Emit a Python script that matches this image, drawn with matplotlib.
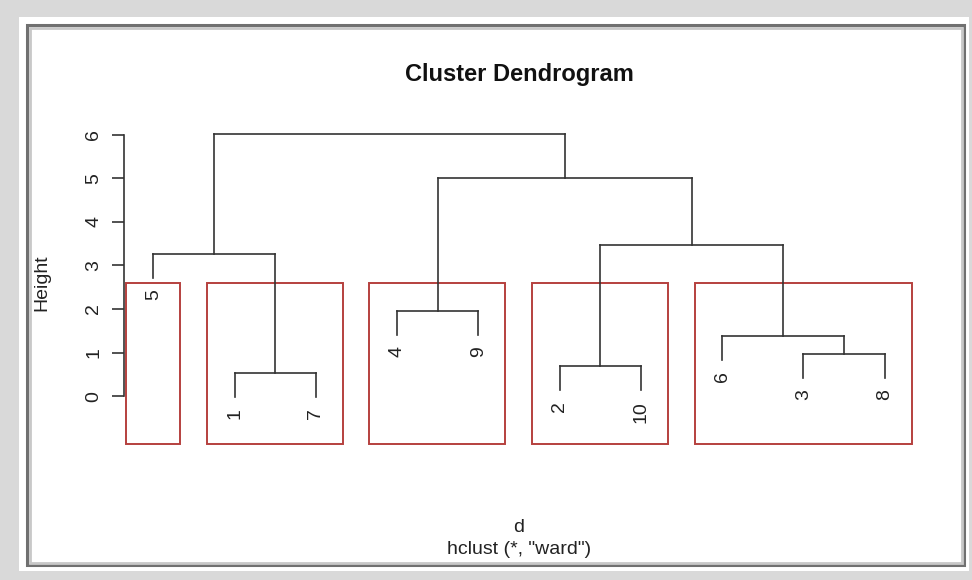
import matplotlib
matplotlib.use("Agg")
import matplotlib.pyplot as plt
from matplotlib.patches import Rectangle

plt.rcParams['font.family'] = ['Liberation Sans', 'DejaVu Sans']

# data: hclust result (R-style merge table, negative = leaf id)
leaf_order = [5, 1, 7, 4, 9, 2, 10, 6, 3, 8]
merge_left = [-1, -2, -3, -6, -4, -5, 2, 5, 6]
merge_right = [-7, -10, -8, 3, -9, 1, 4, 7, 8]
merge_height = [0.53, 0.69, 0.97, 1.38, 1.95, 3.26, 3.47, 5.01, 6.02]
k_clusters = 5
cluster_sizes = [1, 2, 2, 2, 3]   # leaves per rect, in leaf order
y_ticks = [0, 1, 2, 3, 4, 5, 6]

line_col = '#333333'
rect_col = '#b5403e'

fig = plt.figure(figsize=(9.72, 5.80), dpi=100)
fig.patch.set_facecolor('#d9d9d9')

# screenshot frame
fig.patches.append(Rectangle((19 / 972, 9 / 580), 950 / 972, 554 / 580,
                             transform=fig.transFigure, facecolor='white',
                             edgecolor='none', zorder=-2))
fig.patches.append(Rectangle((27 / 972, 15 / 580), 937 / 972, 540 / 580,
                             transform=fig.transFigure, facecolor='none',
                             edgecolor='#707070', lw=2.2, zorder=-1))
fig.patches.append(Rectangle((29.5 / 972, 17.5 / 580), 932 / 972, 535 / 580,
                             transform=fig.transFigure, facecolor='none',
                             edgecolor='#c8c8c8', lw=2.0, zorder=-1))

ax = fig.add_axes([124 / 972, (580 - 444) / 580, 790 / 972, 322 / 580])
ax.set_facecolor('none')
ax.set_zorder(3)

n = len(leaf_order)
hang = 0.1 * (max(merge_height) - min(merge_height))
leaf_x = {lab: i + 1 for i, lab in enumerate(leaf_order)}
node_x = {}

def child_pos(c):
    if c < 0:
        return leaf_x[-c], None
    return node_x[c], merge_height[c - 1]

for i in range(len(merge_height)):
    h = merge_height[i]
    xs = []
    for c in (merge_left[i], merge_right[i]):
        x, ch = child_pos(c)
        if ch is None:
            bottom = h - hang
            ax.plot([x, x], [h, bottom], color=line_col, lw=1.2)
            ax.annotate(str(-c), (x, bottom), xytext=(0, -8),
                        textcoords='offset points', rotation=90,
                        ha='center', va='top', fontsize=14, color='#222222')
        else:
            ax.plot([x, x], [h, ch], color=line_col, lw=1.2)
        xs.append(x)
    ax.plot(xs, [h, h], color=line_col, lw=1.2)
    node_x[i + 1] = sum(xs) / 2

xmin = 1 - 0.04 * (n - 1)
xmax = n + 0.04 * (n - 1)
ylo = -0.826
yr = max(merge_height) - ylo
ax.set_xlim(xmin, xmax)
ax.set_ylim(ylo - 0.04 * yr, max(merge_height) + 0.04 * yr)

# rect.hclust boxes
srt = sorted(merge_height, reverse=True)
rect_top = (srt[k_clusters - 2] + srt[k_clusters - 1]) / 2
usr_bottom = ax.get_ylim()[0]
start = 0
for size in cluster_sizes:
    left = start + 0.66
    right = start + size + 0.33
    ax.add_patch(Rectangle((left, usr_bottom), right - left, rect_top - usr_bottom,
                           facecolor='none', edgecolor=rect_col, lw=1.4,
                           clip_on=False))
    start += size

for s in ['top', 'right', 'bottom']:
    ax.spines[s].set_visible(False)
ax.spines['left'].set_bounds(0, 6)
ax.spines['left'].set_color(line_col)
ax.spines['left'].set_linewidth(1.2)
ax.set_xticks([])
ax.set_yticks(y_ticks)
ax.tick_params(axis='y', length=8.6, width=1.2, color=line_col, pad=7,
               labelsize=14, labelrotation=90, labelcolor='#222222')
for lab in ax.get_yticklabels():
    lab.set_va('center')

fig.text(519 / 972, 1 - 74 / 580, 'Cluster Dendrogram', ha='center', va='center',
         fontsize=17, fontweight='bold', color='#111111')
fig.text(42 / 972, 1 - 283 / 580, 'Height', ha='center', va='center',
         rotation=90, fontsize=14, color='#222222')
fig.text(519 / 972, 1 - 527 / 580, 'd', ha='center', va='center',
         fontsize=14, color='#222222')
fig.text(519 / 972, 1 - 549 / 580, 'hclust (*, "ward")', ha='center', va='center',
         fontsize=14, color='#222222')

fig.savefig('out.png', dpi=100, facecolor=fig.get_facecolor())
